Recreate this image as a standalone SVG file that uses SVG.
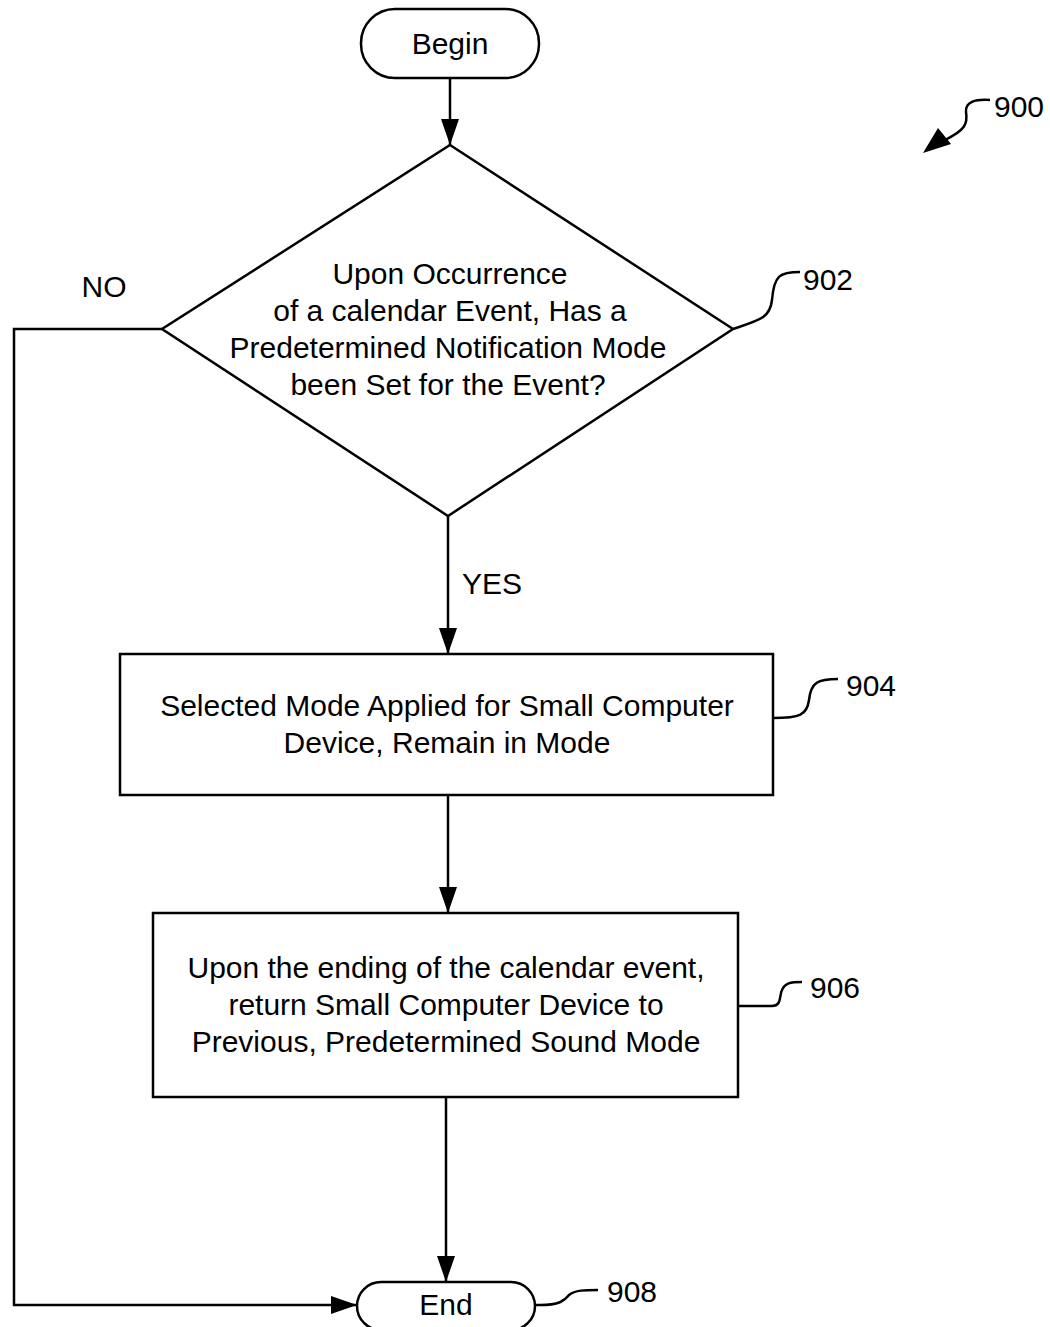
<svg xmlns="http://www.w3.org/2000/svg" width="1050" height="1327" viewBox="0 0 1050 1327">
<style>
.s{fill:none;stroke:#000;stroke-width:2.5}
.n{fill:#fff;stroke:#000;stroke-width:2.5}
text{font-family:"Liberation Sans",Arial,sans-serif;font-size:30px;fill:#000;text-anchor:middle}
.r{text-anchor:start}
</style>
<defs>
<marker id="b" markerWidth="26" markerHeight="18" refX="26" refY="9" orient="auto" markerUnits="userSpaceOnUse" viewBox="0 0 26 18">
<path d="M0,0 L26,9 L0,18 Z" fill="#000"/>
</marker>
</defs>
<g id="connectors">
<path class="s" d="M450,78 V145" marker-end="url(#b)"/>
<path class="s" d="M448,516 V654" marker-end="url(#b)"/>
<path class="s" d="M448,795 V913" marker-end="url(#b)"/>
<path class="s" d="M446,1097 V1282" marker-end="url(#b)"/>
<path class="s" d="M162,329 H14 V1305 H357" marker-end="url(#b)"/>
<text x="104" y="297">NO</text>
<text x="492" y="594">YES</text>
</g>
<g id="begin">
<rect class="n" x="361" y="9" width="178" height="69" rx="34"/>
<text x="450" y="54">Begin</text>
</g>
<g id="n902">
<polygon class="n" points="450,145 733,329 448,516 162,329"/>
<text x="450" y="284">Upon Occurrence</text>
<text x="450" y="321">of a calendar Event, Has a</text>
<text x="448" y="358">Predetermined Notification Mode</text>
<text x="448" y="395">been Set for the Event?</text>
<path class="s" d="M733,329 C760,320 770,318 772,300 C774,275 780,272 800,272"/>
<text class="r" x="803" y="290">902</text>
</g>
<g id="n904">
<rect class="n" x="120" y="654" width="653" height="141"/>
<text x="447" y="716">Selected Mode Applied for Small Computer</text>
<text x="447" y="753">Device, Remain in Mode</text>
<path class="s" d="M773,718 C800,718 807,715 809,700 C811,682 818,679 838,679"/>
<text class="r" x="846" y="696">904</text>
</g>
<g id="n906">
<rect class="n" x="153" y="913" width="585" height="184"/>
<text x="446" y="978">Upon the ending of the calendar event,</text>
<text x="446" y="1015">return Small Computer Device to</text>
<text x="446" y="1052">Previous, Predetermined Sound Mode</text>
<path class="s" d="M738,1006 H772 C782,1006 779,996 782,990 C785,983 790,982 802,982"/>
<text class="r" x="810" y="998">906</text>
</g>
<g id="end">
<rect class="n" x="357" y="1282" width="178" height="48" rx="24"/>
<text x="446" y="1315">End</text>
<path class="s" d="M535,1305 C560,1306 565,1300 569,1295 C575,1290 585,1290 598,1290"/>
<text class="r" x="607" y="1302">908</text>
</g>
<g id="ref900">
<path class="s" d="M990,100 C975,99 965,102 966,112 C968,124 965,130 945,140"/>
<path d="M923,153 L938,128 L951,144 Z" fill="#000"/>
<text class="r" x="994" y="117">900</text>
</g>
</svg>
